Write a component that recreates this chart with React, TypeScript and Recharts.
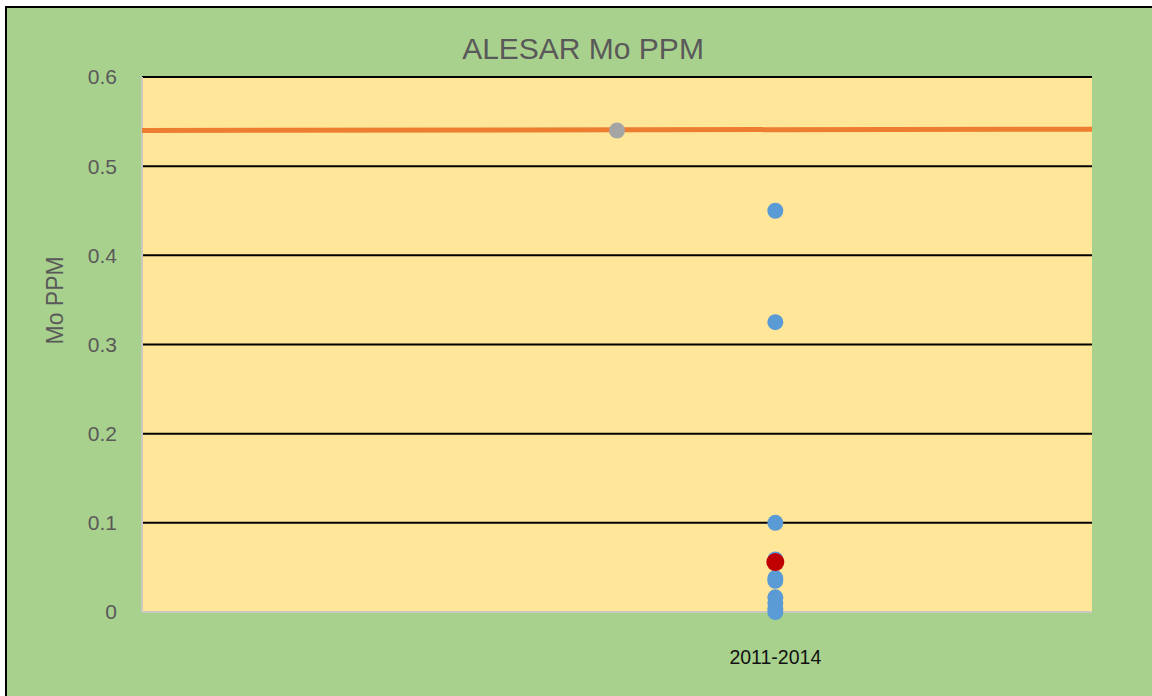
import { CartesianGrid, ComposedChart, Scatter, XAxis, YAxis } from "recharts"

const periods = ["2011-2014"]
const periodX = [2]
const moValues = [0.45, 0.325, 0.1, 0.059, 0.038, 0.035, 0.0165, 0.01, 0.004, 0]
const averageValue = [0.056]
const referenceX = [1.5]
const referenceValue = [0.54]
const limitX = [0, 3]
const limitValues = [0.54, 0.5415]
const yTicks = [0, 0.1, 0.2, 0.3, 0.4, 0.5, 0.6]

const blueData = moValues.map((v) => ({ x: periodX[0], y: v }))
const redData = averageValue.map((v) => ({ x: periodX[0], y: v }))
const greyData = referenceValue.map((v, i) => ({ x: referenceX[i], y: v }))
const limitData = limitValues.map((v, i) => ({ x: limitX[i], y: v }))

const font = "'Liberation Sans', Arial, sans-serif"

const Dot = ({ cx, cy, fill, r }: { cx?: number; cy?: number; fill?: string; r: number }) => (
  <circle cx={cx} cy={cy} r={r} fill={fill} />
)

const App = () => {
  return (
    <div style={{ position: "absolute", left: 0, top: 0, width: 1152, height: 696, overflow: "hidden", fontFamily: font }}>
      <div
        style={{
          position: "absolute",
          left: 5,
          top: 6,
          width: 1147,
          height: 690,
          boxSizing: "border-box",
          borderLeft: "2px solid #000",
          borderTop: "2px solid #000",
          background: "#A9D18E",
        }}
      />
      <div
        style={{
          position: "absolute",
          left: 0,
          width: 1166,
          top: 30,
          textAlign: "center",
          fontSize: 30,
          color: "#595959",
          lineHeight: "38px",
        }}
      >
        ALESAR Mo PPM
      </div>
      <div style={{ position: "absolute", left: 0, top: 0 }}>
        <ComposedChart width={1152} height={696} margin={{ top: 77, right: 60, bottom: 24, left: 0 }}>
          <CartesianGrid vertical={false} stroke="#000" strokeWidth={2} fill="#FFE699" fillOpacity={1} />
          <XAxis
            type="number"
            dataKey="x"
            domain={[0, 3]}
            ticks={periodX}
            tickFormatter={(v: number) => periods[periodX.indexOf(v)] ?? ""}
            height={60}
            tickLine={false}
            tickSize={0}
            tickMargin={38}
            axisLine={{ stroke: "#C9C9BF", strokeWidth: 2 }}
            tick={{ fill: "#111", fontSize: 19.5, fontFamily: font }}
            allowDataOverflow
          />
          <YAxis
            type="number"
            dataKey="y"
            domain={[0, 0.6]}
            ticks={yTicks}
            width={142}
            tickLine={false}
            tickSize={0}
            tickMargin={25}
            axisLine={{ stroke: "#C9C9BF", strokeWidth: 2 }}
            tick={{ fill: "#595959", fontSize: 21, fontFamily: font }}
            label={{
              value: "Mo PPM",
              angle: -90,
              position: "insideLeft",
              offset: 55,
              fill: "#595959",
              fontSize: 23,
              fontFamily: font,
            }}
          />
          <Scatter
            data={limitData}
            line={{ stroke: "#ED7D31", strokeWidth: 5 }}
            shape={() => <g />}
            isAnimationActive={false}
          />
          <Scatter data={greyData} fill="#A5A5A5" shape={(p: any) => <Dot {...p} r={8} />} isAnimationActive={false} />
          <Scatter data={blueData} fill="#5B9BD5" shape={(p: any) => <Dot {...p} r={8} />} isAnimationActive={false} />
          <Scatter data={redData} fill="#C00000" shape={(p: any) => <Dot {...p} r={9} />} isAnimationActive={false} />
        </ComposedChart>
      </div>
    </div>
  )
}

export default App
